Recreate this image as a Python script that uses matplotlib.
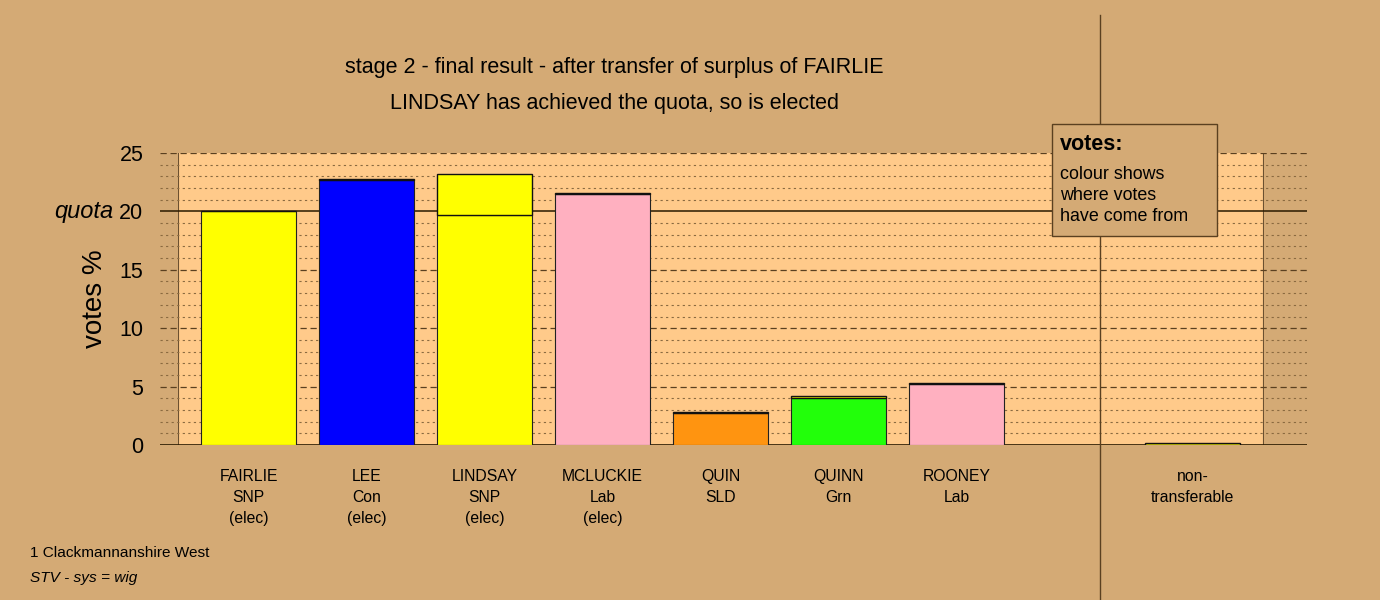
import numpy as np
import matplotlib
matplotlib.use("Agg")
import matplotlib.pyplot as plt
from matplotlib.transforms import blended_transform_factory
from matplotlib.lines import Line2D

plt.rcParams["font.family"] = ["Liberation Sans", "DejaVu Sans"]

# data
candidates = ["FAIRLIE", "LEE", "LINDSAY", "MCLUCKIE", "QUIN", "QUINN", "ROONEY", "non-"]
parties = ["SNP", "Con", "SNP", "Lab", "SLD", "Grn", "Lab", "transferable"]
status = ["(elec)", "(elec)", "(elec)", "(elec)", "", "", "", ""]
positions = [0, 1, 2, 3, 4, 5, 6, 8]
base_votes = [20.0, 22.65, 19.7, 21.5, 2.7, 4.0, 5.2, 0.0]
from_fairlie = [0.0, 0.1, 3.5, 0.1, 0.1, 0.2, 0.1, 0.2]
base_colours = ["#FFFF00", "#0000FF", "#FFFF00", "#FFB0C0", "#FF9410", "#22FF0A", "#FFB0C0", "#FFFF00"]
transfer_colour = "#FFFF00"
quota = 20

bg = "#D4AA75"
inner = "#FFCA8A"

fig = plt.figure(figsize=(13.8, 6), dpi=100, facecolor=bg)
W, H = 1380, 600
ax = fig.add_axes([160 / W, 1 - 445 / H, (1307 - 160) / W, (445 - 153) / H])
ax.set_facecolor(bg)
ax.set_xlim(-0.75, 8.97)
ax.set_ylim(0, 25)
for s in ax.spines.values():
    s.set_visible(False)

# shaded plot area
ax.axvspan(-0.6, 8.6, color=inner, zorder=0)
ax.axvline(-0.6, color="#6b5030", lw=0.8, zorder=1)
ax.axvline(8.6, color="#6b5030", lw=0.8, zorder=1)

# gridlines
for v in range(1, 25):
    if v % 5 == 0:
        continue
    ax.axhline(v, color="#8a6a40", lw=0.8, ls=(0, (2, 3)), zorder=1)
for v in [5, 10, 15, 25]:
    ax.axhline(v, color="#5a4020", lw=0.9, ls=(0, (5, 3)), zorder=1)
ax.axhline(quota, color="#2a1a00", lw=1.1, zorder=1)
ax.axhline(0, color="#2a1a00", lw=1.2, zorder=1)

# bars
ax.bar(positions, base_votes, width=0.8, color=base_colours, edgecolor="#222222", lw=0.8, zorder=3)
ax.bar(positions, from_fairlie, width=0.8, bottom=base_votes, color=transfer_colour,
       edgecolor="#111111", lw=1.0, zorder=3)

ax.set_yticks([0, 5, 10, 15, 20, 25])
ax.set_yticklabels(["0", "5", "10", "15", "20", "25"], fontsize=15.5)
ax.tick_params(axis="y", length=0, pad=12)
ax.set_xticks([])
ax.set_ylabel("votes %", fontsize=20, labelpad=8)

ax.text(-0.75 - 47 / 118, quota, "quota", fontsize=17, style="italic", ha="right", va="center")

# category labels
tr = blended_transform_factory(ax.transData, fig.transFigure)
for p, c, pa, st in zip(positions, candidates, parties, status):
    txt = c + "\n" + pa + ("\n" + st if st else "")
    ax.text(p, 1 - 469 / H, txt, transform=tr, ha="center", va="top", fontsize=11.3,
            linespacing=1.5, clip_on=False)

# divider line
fig.add_artist(Line2D([1100 / W, 1100 / W], [0, 1 - 15 / H], color="#5a4020", lw=1.0))

# titles
fig.text(614 / W, 1 - 67 / H, "stage 2 - final result - after transfer of surplus of FAIRLIE",
         ha="center", va="center", fontsize=15.5)
fig.text(614 / W, 1 - 104 / H, "LINDSAY has achieved the quota, so is elected",
         ha="center", va="center", fontsize=15.5)

# legend box
box = plt.Rectangle((1052 / W, 1 - 236 / H), 165 / W, 112 / H, transform=fig.transFigure,
                    facecolor=bg, edgecolor="#5a4020", lw=1.0, zorder=5)
fig.add_artist(box)
fig.text(1060 / W, 1 - 144 / H, "votes:", fontsize=15.5, fontweight="bold", va="center", zorder=6)
fig.text(1060 / W, 1 - 166 / H, "colour shows\nwhere votes\nhave come from", fontsize=12.9,
         va="top", linespacing=1.3, zorder=6)

# footer
fig.text(30 / W, 1 - 553 / H, "1 Clackmannanshire West", fontsize=11.1, va="center")
fig.text(30 / W, 1 - 578 / H, "STV - sys = wig", fontsize=11.1, style="italic", va="center")

fig.savefig("out.png", dpi=100, facecolor=bg)
